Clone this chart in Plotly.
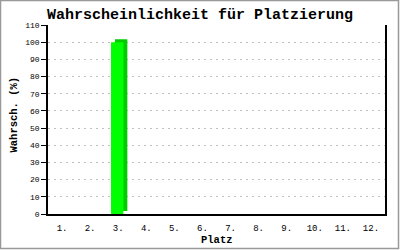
import plotly.graph_objects as go

categories = ["1.", "2.", "3.", "4.", "5.", "6.", "7.", "8.", "9.", "10.", "11.", "12."]
values = [0, 0, 100, 0, 0, 0, 0, 0, 0, 0, 0, 0]
y_ticks = list(range(0, 111, 10))

title = "Wahrscheinlichkeit für Platzierung"
x_title = "Platz"
y_title = "Wahrsch. (%)"

W, H = 400, 250
L, R, T, B = 48, 15, 25, 36
pw = W - L - R
ph = H - T - B

front_w = 0.44
front_off = -0.256
depth_x = 0.142
depth_y = 1.75

mono = "Liberation Mono"


def px_x(p):
    return (p - L) / pw


def px_y(p):
    return (H - B - p) / ph


fig = go.Figure()
# 3D side/top (darker) drawn first
fig.add_trace(go.Bar(
    x=categories, y=values, base=[depth_y if v > 0 else 0 for v in values],
    width=front_w, offset=front_off + depth_x,
    marker=dict(color="#00cc00", line=dict(width=0)), hoverinfo="skip",
))
fig.add_trace(go.Bar(
    x=categories, y=values,
    width=front_w, offset=front_off,
    marker=dict(color="#00ff00", line=dict(width=0)),
))

fig.add_shape(type="rect", xref="paper", yref="paper",
              x0=px_x(0.5), x1=px_x(398.5), y0=px_y(248.5), y1=px_y(0.5),
              line=dict(color="#999999", width=1.5), fillcolor="rgba(0,0,0,0)", layer="below")

fig.add_annotation(text=x_title, xref="paper", yref="paper", x=px_x(217), y=px_y(240),
                   xanchor="center", yanchor="middle", showarrow=False,
                   font=dict(family=mono, size=10.5, color="black", weight="bold"))
fig.add_annotation(text=y_title, xref="paper", yref="paper", x=px_x(13.5), y=px_y(115),
                   xanchor="center", yanchor="middle", showarrow=False, textangle=-90,
                   font=dict(family=mono, size=10.5, color="black", weight="bold"))

fig.update_layout(
    width=W, height=H,
    margin=dict(l=L, r=R, t=T, b=B, pad=0, autoexpand=False),
    paper_bgcolor="white", plot_bgcolor="white",
    barmode="overlay", showlegend=False,
    title=dict(text=title, x=0.5, xref="container", xanchor="center",
               y=1 - 14 / H, yref="container", yanchor="middle",
               font=dict(family=mono, size=15, color="black", weight="bold")),
    xaxis=dict(type="category", categoryorder="array", categoryarray=categories,
               range=[-0.5, len(categories) - 0.5], automargin=False,
               showline=True, linecolor="black", linewidth=1.5,
               ticks="outside", ticklen=4, tickcolor="rgba(0,0,0,0)",
               showgrid=False, zeroline=False,
               tickfont=dict(family=mono, size=9, color="black")),
    yaxis=dict(range=[0, 110], tickvals=y_ticks, ticktext=[str(v) for v in y_ticks],
               automargin=False,
               showline=True, mirror=True, linecolor="black", linewidth=1.5,
               ticks="outside", ticklen=5, tickcolor="black", tickwidth=1,
               showgrid=True, gridcolor="#c0c0c0", griddash="2px,4px", gridwidth=1,
               zeroline=False,
               tickfont=dict(family=mono, size=8, color="black")),
)

fig.write_html("out.html")
